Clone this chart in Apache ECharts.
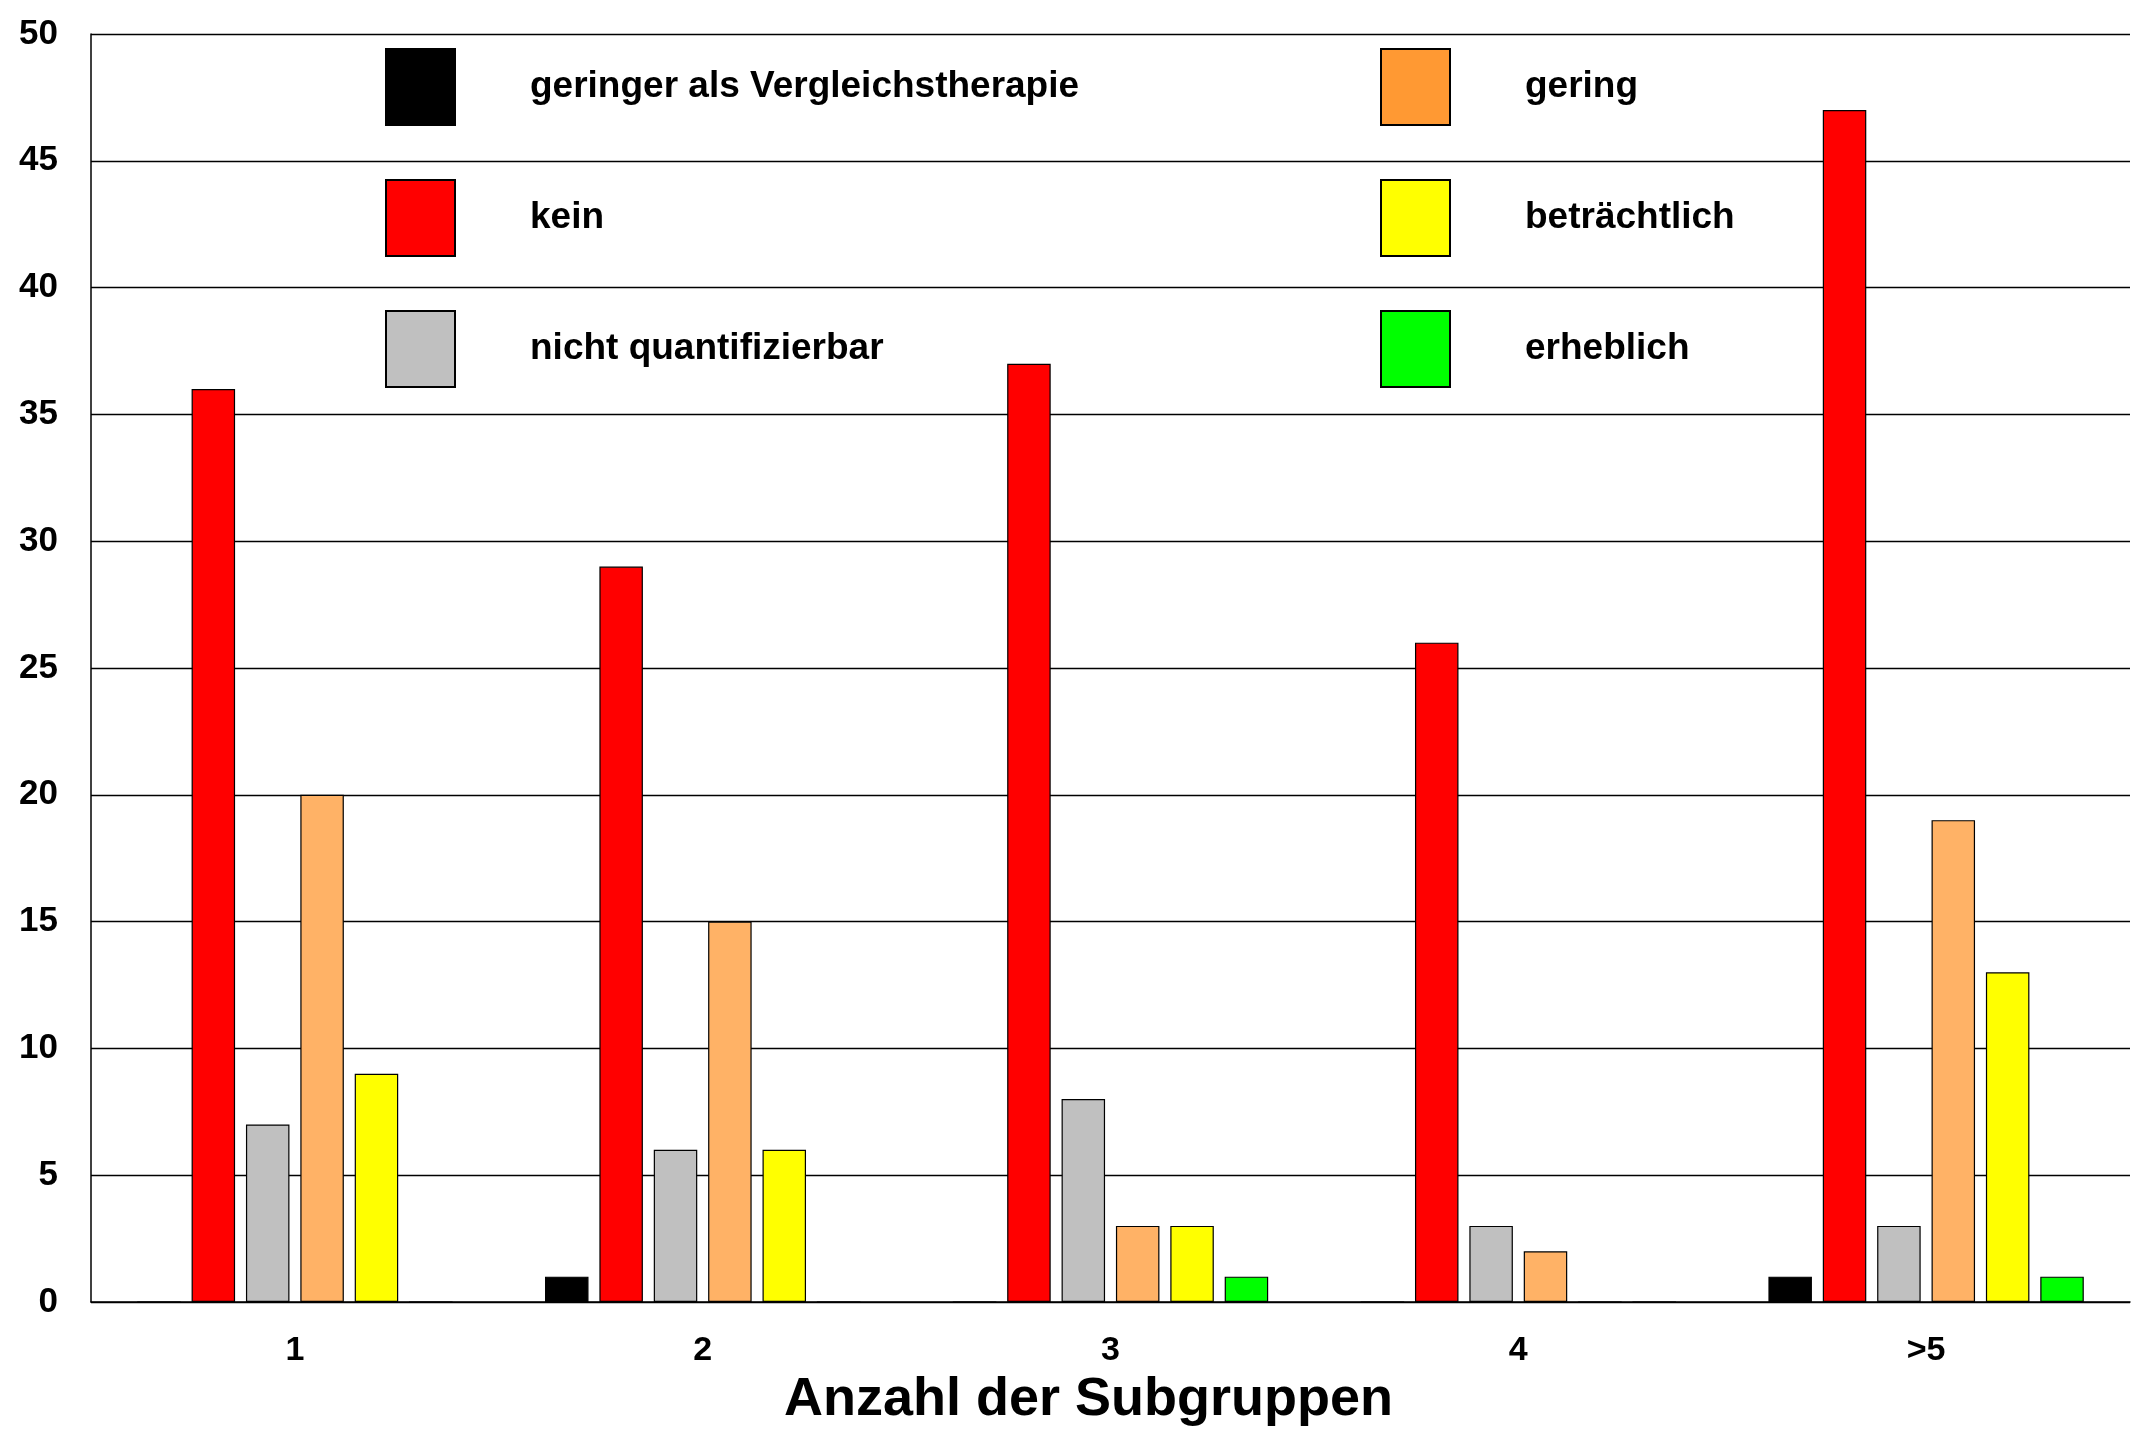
<!DOCTYPE html>
<html>
<head>
<meta charset="utf-8">
<title>Anzahl der Subgruppen</title>
<script src="https://cdn.jsdelivr.net/npm/echarts@6/dist/echarts.min.js"></script>
<style>
  html, body { margin: 0; padding: 0; background: #fff; }
  #chart { width: 2153px; height: 1440px; }
</style>
</head>
<body>
<div id="chart"></div>
<script>
// Kategorien (x-Achse)
const categories = ["1", "2", "3", "4", ">5"];
// Werte je Zusatznutzen-Kategorie
const geringerAlsVergleich = [0, 1, 0, 0, 1];
const kein = [36, 29, 37, 26, 47];
const nichtQuantifizierbar = [7, 6, 8, 3, 3];
const gering = [20, 15, 3, 2, 19];
const betraechtlich = [9, 6, 3, 0, 13];
const erheblich = [0, 0, 1, 0, 1];

const font = "'Liberation Sans', Arial, sans-serif";

function bar(name, data, color) {
  return {
    name: name,
    type: "bar",
    data: data,
    barWidth: 43.5,
    barGap: "25%",
    itemStyle: { color: color, borderColor: "#000", borderWidth: 1.2 },
  };
}

// Legende: Farbfeld + Text, Text etwas weiter rechts
const legendBase = {
  orient: "vertical",
  itemWidth: 69,
  itemHeight: 76,
  itemGap: 53,
  icon: "rect",
  textStyle: {
    fontFamily: font,
    fontWeight: "bold",
    fontSize: 37,
    color: "#000",
    padding: [0, 0, 0, 70],
  },
  selectedMode: false,
};

const option = {
  backgroundColor: "#fff",
  animation: false,
  grid: { left: 91, right: 23, top: 34, bottom: 138 },
  legend: [
    Object.assign({}, legendBase, {
      left: 380,
      top: 43,
      data: ["geringer als Vergleichstherapie", "kein", "nicht quantifizierbar"],
    }),
    Object.assign({}, legendBase, {
      left: 1375,
      top: 43,
      data: [
        { name: "gering", itemStyle: { color: "#FF9933" } },
        "beträchtlich",
        "erheblich",
      ],
    }),
  ],
  xAxis: {
    type: "category",
    data: categories,
    name: "Anzahl der Subgruppen",
    nameLocation: "middle",
    nameGap: 70,
    nameTextStyle: {
      fontFamily: font,
      fontWeight: "bold",
      fontSize: 54,
      color: "#000",
      padding: [0, 44, 0, 0],
    },
    axisLine: { lineStyle: { color: "#000", width: 1.5 } },
    axisTick: { show: false },
    axisLabel: {
      margin: 32,
      fontFamily: font,
      fontWeight: "bold",
      fontSize: 34,
      color: "#000",
    },
  },
  yAxis: {
    type: "value",
    min: 0,
    max: 50,
    interval: 5,
    axisLine: { show: true, lineStyle: { color: "#000", width: 1.5 } },
    axisTick: { show: false },
    splitLine: { lineStyle: { color: "#000", width: 1.3 } },
    axisLabel: {
      margin: 33,
      fontFamily: font,
      fontWeight: "bold",
      fontSize: 35,
      color: "#000",
    },
  },
  series: [
    bar("geringer als Vergleichstherapie", geringerAlsVergleich, "#000000"),
    bar("kein", kein, "#FF0000"),
    bar("nicht quantifizierbar", nichtQuantifizierbar, "#C0C0C0"),
    bar("gering", gering, "#FFB266"),
    bar("beträchtlich", betraechtlich, "#FFFF00"),
    bar("erheblich", erheblich, "#00FF00"),
  ],
};

const chart = echarts.init(document.getElementById("chart"));
chart.setOption(option);
</script>
</body>
</html>
